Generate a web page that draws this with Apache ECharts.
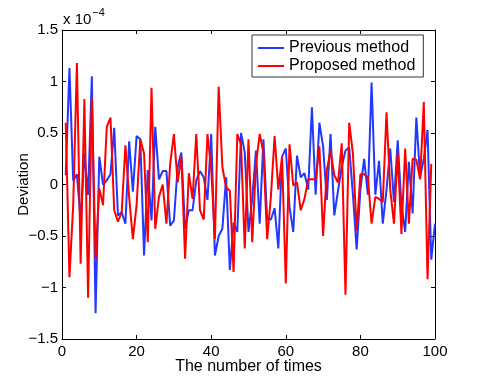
<!DOCTYPE html>
<html>
<head>
<meta charset="utf-8">
<script src="https://cdn.jsdelivr.net/npm/echarts@6/dist/echarts.min.js"></script>
<style>
  html, body { margin: 0; padding: 0; background: #fff; }
  #chart { width: 480px; height: 382px; }
</style>
</head>
<body>
<div id="chart"></div>
<script>
// values in units of 1e-4, x = 1..n
var previous = [0.09, 1.13, 0.04, 0.10, -0.35, 0.30, -0.10, 1.05, -1.25, 0.27,
    0.00, 0.04, 0.10, 0.55, -0.30, -0.27, -0.38, 0.42, -0.07, 0.47,
    0.44, -0.69, 0.14, -0.35, 0.56, 0.05, 0.13, 0.13, -0.40, -0.35,
    0.17, 0.31, -0.43, -0.25, -0.25, 0.04, 0.13, 0.07, -0.15, 0.49,
    -0.69, -0.50, -0.43, 0.07, -0.83, -0.37, -0.46, 0.50, 0.31, -0.46,
    -0.14, 0.33, -0.38, 0.44, -0.34, -0.34, -0.23, -0.62, 0.27, 0.35,
    -0.22, -0.46, 0.28, 0.07, 0.11, -0.05, 0.75, -0.10, 0.60, 0.37,
    -0.15, 0.49, -0.30, -0.06, 0.17, 0.33, 0.36, -0.10, -0.63, -0.05,
    0.25, -0.10, 0.99, -0.10, 0.23, -0.38, -0.05, 0.35, -0.17, 0.43,
    -0.20, -0.46, 0.22, -0.28, 0.65, 0.07, 0.25, 0.53, -0.73, -0.38]
var proposed = [0.60, -0.90, -0.20, 1.18, -0.77, 0.83, -1.10, 0.85, -0.72, -0.04,
    -0.20, 0.56, 0.65, -0.25, -0.36, -0.27, 0.38, -0.12, -0.53, -0.20,
    0.44, 0.30, -0.56, 0.94, -0.43, -0.12, 0.00, -0.38, 0.20, 0.49,
    0.02, 0.27, -0.72, 0.11, -0.14, 0.49, -0.25, -0.34, 0.49, 0.15,
    -0.53, 0.95, 0.17, -0.03, -0.06, -0.85, 0.49, 0.39, -0.62, 0.44,
    -0.56, 0.20, 0.49, 0.31, -0.53, -0.12, 0.47, -0.05, 0.27, -0.96,
    0.39, -0.01, 0.02, -0.25, -0.14, 0.05, 0.05, 0.05, 0.37, -0.50,
    0.14, 0.33, 0.09, 0.02, 0.40, -1.07, 0.60, 0.30, -0.45, 0.10,
    0.10, 0.07, -0.38, -0.12, -0.14, -0.17, 0.70, -0.05, -0.38, 0.31,
    -0.48, 0.35, -0.38, 0.25, 0.24, 0.05, 0.80, -0.92, 0.20]
var seriesNames = ['Previous method', 'Proposed method']

var font = 'Liberation Sans'
var axisColor = '#000'

function toPoints(arr) {
    return arr.map(function (v, i) { return [i + 1, v] })
}

// matlab style minus sign
function fmt(v) {
    return String(v).replace('-', '\u2212')
}

var chart = echarts.init(document.getElementById('chart'), null, { renderer: 'canvas' })

function boxAxis(extra) {
    return Object.assign({
        axisLine: { show: true, onZero: false, lineStyle: { color: axisColor, width: 1 } },
        axisTick: { show: true, inside: true, length: 4, lineStyle: { color: axisColor } },
        splitLine: { show: false }
    }, extra)
}

var option = {
    animation: false,
    backgroundColor: '#fff',
    textStyle: { fontFamily: font },
    grid: { left: 62, right: 45, top: 30, bottom: 43, containLabel: false },
    legend: {
        orient: 'vertical',
        left: 252,
        top: 35,
        padding: [5, 8, 3, 6],
        itemGap: 2,
        itemWidth: 26,
        itemHeight: 2,
        icon: 'rect',
        borderColor: '#333',
        borderWidth: 1,
        backgroundColor: '#fff',
        textStyle: { fontFamily: font, fontSize: 16, color: '#000' },
        data: seriesNames
    },
    xAxis: [
        boxAxis({
            type: 'value', min: 0, max: 100, interval: 20, position: 'bottom',
            name: 'The number of times', nameLocation: 'middle', nameGap: 20,
            nameMoveOverlap: false,
            nameTextStyle: { fontFamily: font, fontSize: 16, color: '#000' },
            axisLabel: { fontFamily: font, fontSize: 15, color: '#000', margin: 5, formatter: fmt }
        }),
        boxAxis({
            type: 'value', min: 0, max: 100, interval: 20, position: 'top',
            axisLabel: { show: false }
        })
    ],
    yAxis: [
        boxAxis({
            type: 'value', min: -1.5, max: 1.5, interval: 0.5, position: 'left',
            name: 'Deviation', nameLocation: 'middle', nameGap: 31,
            nameMoveOverlap: false,
            nameTextStyle: { fontFamily: font, fontSize: 15, color: '#000' },
            axisLabel: { fontFamily: font, fontSize: 15, color: '#000', margin: 4, formatter: fmt }
        }),
        boxAxis({
            type: 'value', min: -1.5, max: 1.5, interval: 0.5, position: 'right',
            axisLabel: { show: false }
        })
    ],
    graphic: [{
        type: 'text',
        left: 63,
        top: 7,
        style: {
            text: '{a|x 10}{b|\u22124}',
            rich: {
                a: { fontFamily: font, fontSize: 15, fill: '#000', verticalAlign: 'bottom' },
                b: { fontFamily: font, fontSize: 11, fill: '#000', padding: [0, 0, 9, 1] }
            }
        }
    }],
    series: [{
        name: seriesNames[0],
        type: 'line',
        data: toPoints(previous),
        symbol: 'none',
        color: '#2238ff',
        lineStyle: { width: 2, color: '#2238ff' }
    }, {
        name: seriesNames[1],
        type: 'line',
        data: toPoints(proposed),
        symbol: 'none',
        color: '#ff0000',
        lineStyle: { width: 2, color: '#ff0000' }
    }]
}

chart.setOption(option)
</script>
</body>
</html>
